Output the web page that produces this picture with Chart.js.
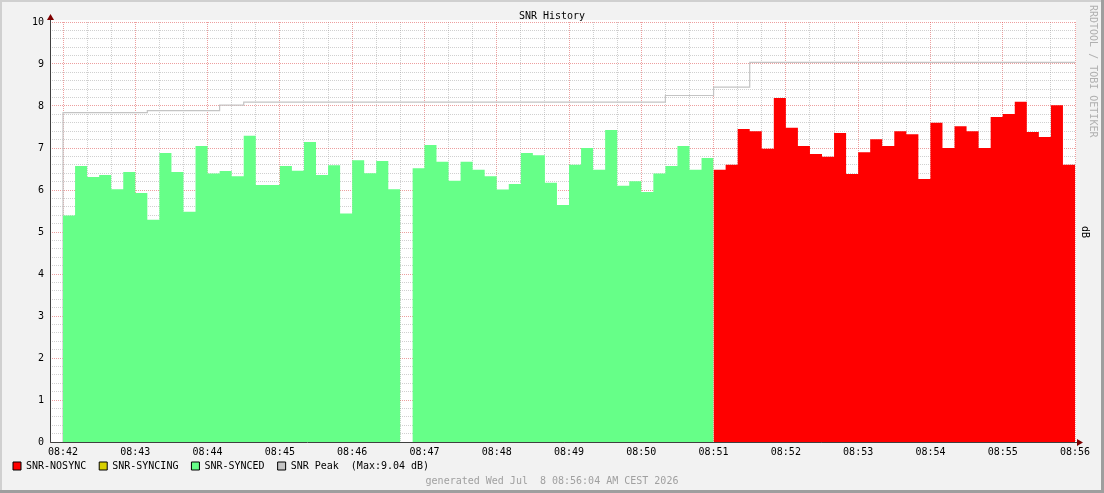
<!DOCTYPE html>
<html>
<head>
<meta charset="utf-8">
<script src="https://cdn.jsdelivr.net/npm/chart.js@4/dist/chart.umd.min.js"></script>
<style>
  body { margin: 0; background: #f2f2f2; overflow: hidden; }
  canvas { display: block; }
</style>
</head>
<body>
<canvas id="snrChart" width="1104" height="493"></canvas>
<script>
// one value every 10 seconds, starting 08:42:00
const stepSec = 10;
const timeLabels = ["08:42", "08:43", "08:44", "08:45", "08:46", "08:47", "08:48", "08:49",
  "08:50", "08:51", "08:52", "08:53", "08:54", "08:55", "08:56"];
const yLabels = ["0", "1", "2", "3", "4", "5", "6", "7", "8", "9", "10"];

// SNR-SYNCED, from 08:42:00
const snrSynced = [5.39, 6.57, 6.31, 6.36, 6.02, 6.43, 5.93, 5.29, 6.88, 6.43,
  5.48, 7.05, 6.39, 6.45, 6.33, 7.29, 6.12, 6.12, 6.57, 6.46,
  7.14, 6.36, 6.59, 5.44, 6.71, 6.40, 6.69, 6.02, null, 6.52,
  7.07, 6.67, 6.22, 6.67, 6.48, 6.33, 6.01, 6.14, 6.88, 6.83,
  6.17, 5.64, 6.60, 7.00, 6.48, 7.43, 6.10, 6.21, 5.95, 6.39,
  6.57, 7.05, 6.48, 6.76];
// SNR-NOSYNC, from 08:51:00 (step 54)
const nosyncStart = 54;
const snrNosync = [6.48, 6.60, 7.45, 7.40, 6.98, 8.19, 7.48, 7.05, 6.86, 6.79,
  7.36, 6.38, 6.90, 7.21, 7.05, 7.40, 7.33, 6.26, 7.60, 7.00,
  7.52, 7.40, 7.00, 7.74, 7.81, 8.10, 7.38, 7.26, 8.02, 6.60];
// SNR-SYNCING, no values in this window
const snrSyncing = [];
// SNR Peak, from 08:42:00
const snrPeak = [7.84, 7.84, 7.84, 7.84, 7.84, 7.84, 7.84, 7.89, 7.89, 7.89,
  7.89, 7.89, 7.89, 8.02, 8.02, 8.09, 8.09, 8.09, 8.09, 8.09,
  8.09, 8.09, 8.09, 8.09, 8.09, 8.09, 8.09, 8.09, 8.09, 8.09,
  8.09, 8.09, 8.09, 8.09, 8.09, 8.09, 8.09, 8.09, 8.09, 8.09,
  8.09, 8.09, 8.09, 8.09, 8.09, 8.09, 8.09, 8.09, 8.09, 8.09,
  8.25, 8.25, 8.25, 8.25, 8.45, 8.45, 8.45, 9.04, 9.04, 9.04,
  9.04, 9.04, 9.04, 9.04, 9.04, 9.04, 9.04, 9.04, 9.04, 9.04,
  9.04, 9.04, 9.04, 9.04, 9.04, 9.04, 9.04, 9.04, 9.04, 9.04,
  9.04, 9.04, 9.04, 9.04];

const colNosync = "#ff0000";
const colSyncing = "#d8d000";
const colSynced = "#66ff88";
const colPeak = "#c4c4c4";
const majorGrid = "rgba(222,80,80,0.55)";
const minorGrid = "rgba(150,150,150,0.45)";
const monoFont = "'DejaVu Sans Mono', monospace";

// turns a run of step values into points for a stepped line
function stepPoints(values, firstStep) {
  const pts = [];
  for (let i = 0; i < values.length; i++) {
    const t = (firstStep + i) * stepSec;
    const v = values[i];
    pts.push({ x: t, y: v });
    const next = values[i + 1];
    if (v !== null && (next === undefined || next === null)) {
      pts.push({ x: t + stepSec, y: v });
    }
  }
  return pts;
}

const peakPoints = [{ x: 0, y: 0 }].concat(stepPoints(snrPeak, 0));
const peakMax = Math.max.apply(null, snrPeak);

function isMinute(v) { return Math.abs(v % 60) < 1e-6; }
function isInt(v) { return Math.abs(v - Math.round(v)) < 1e-6; }

const rrdLook = {
  id: "rrdLook",
  afterLayout(chart) {
    // legend row sits just under the time labels
    const l = chart.legend;
    l.top -= 11;
    l.bottom = l.top + 28;
    l.height = 28;
  },
  beforeDraw(chart) {
    const ctx = chart.ctx;
    const a = chart.chartArea;
    const w = chart.width, h = chart.height;
    ctx.save();
    ctx.fillStyle = "#f2f2f2";
    ctx.fillRect(0, 0, w, h);
    ctx.fillStyle = "#d0d0d0";
    ctx.fillRect(0, 0, w, 2);
    ctx.fillRect(0, 0, 2, h);
    ctx.fillStyle = "#9e9e9e";
    ctx.fillRect(0, h - 3, w, 3);
    ctx.fillRect(w - 3, 0, 3, h);
    ctx.fillStyle = "#ffffff";
    ctx.fillRect(a.left, a.top - 2, a.right - a.left + 1, a.bottom - a.top + 2);
    ctx.restore();
  },
  afterDraw(chart) {
    const ctx = chart.ctx;
    const a = chart.chartArea;
    ctx.save();
    ctx.strokeStyle = "#404040";
    ctx.lineWidth = 1;
    ctx.beginPath();
    ctx.moveTo(a.left + 0.5, a.bottom + 0.5);
    ctx.lineTo(a.right + 4, a.bottom + 0.5);
    ctx.moveTo(a.left + 0.5, a.bottom + 0.5);
    ctx.lineTo(a.left + 0.5, a.top - 4);
    ctx.stroke();
    ctx.fillStyle = "#7f0000";
    ctx.beginPath();
    ctx.moveTo(a.right + 2, a.bottom - 3);
    ctx.lineTo(a.right + 8, a.bottom + 0.5);
    ctx.lineTo(a.right + 2, a.bottom + 4);
    ctx.closePath();
    ctx.fill();
    ctx.beginPath();
    ctx.moveTo(a.left - 3, a.top - 2);
    ctx.lineTo(a.left + 0.5, a.top - 8);
    ctx.lineTo(a.left + 4, a.top - 2);
    ctx.closePath();
    ctx.fill();
    // watermark, turned a quarter clockwise
    ctx.font = "10px " + monoFont;
    ctx.textBaseline = "middle";
    ctx.textAlign = "left";
    ctx.fillStyle = "#b0b0b0";
    ctx.translate(chart.width - 11, 5);
    ctx.rotate(Math.PI / 2);
    ctx.fillText("RRDTOOL / TOBI OETIKER", 0, 0);
    ctx.restore();
  }
};

Chart.defaults.font.family = monoFont;
Chart.defaults.font.size = 10;
Chart.defaults.color = "#000000";

function areaSet(label, points, color) {
  return {
    label: label,
    data: points,
    stepped: "before",
    fill: "origin",
    backgroundColor: color,
    borderColor: color,
    borderWidth: 0,
    pointRadius: 0,
  };
}

const ctx = document.getElementById("snrChart").getContext("2d");
const myChart = new Chart(ctx, {
  type: "line",
  data: {
    datasets: [
      areaSet("SNR-NOSYNC", stepPoints(snrNosync, nosyncStart), colNosync),
      areaSet("SNR-SYNCING", stepPoints(snrSyncing, 0), colSyncing),
      areaSet("SNR-SYNCED", stepPoints(snrSynced, 0), colSynced),
      {
        label: "SNR Peak  (Max:" + peakMax.toFixed(2) + " dB)",
        data: peakPoints,
        stepped: "before",
        fill: false,
        backgroundColor: colPeak,
        borderColor: colPeak,
        borderWidth: 1.2,
        pointRadius: 0,
      },
    ],
  },
  options: {
    responsive: false,
    animation: false,
    devicePixelRatio: 1,
    layout: { padding: { left: 0, right: 0, top: 0, bottom: 6 } },
    scales: {
      x: {
        type: "linear",
        min: -10.8,
        max: 840,
        afterBuildTicks: function (scale) {
          const t = [];
          for (let s = 0; s <= 840; s += 20) t.push({ value: s });
          scale.ticks = t;
        },
        afterFit: function (scale) { scale.height = 17; },
        ticks: {
          autoSkip: false,
          maxRotation: 0,
          minRotation: 0,
          padding: 4,
          callback: function (value) {
            return isMinute(value) ? timeLabels[Math.round(value / 60)] : "";
          },
        },
        grid: {
          drawTicks: false,
          color: function (c) {
            return c.tick && isMinute(c.tick.value) ? majorGrid : minorGrid;
          },
        },
        border: { display: false, dash: [1, 1] },
      },
      y: {
        min: 0,
        max: 10,
        afterBuildTicks: function (scale) {
          const t = [];
          for (let i = 0; i <= 50; i++) t.push({ value: i / 5 });
          scale.ticks = t;
        },
        afterFit: function (scale) { scale.width = 50; },
        ticks: {
          autoSkip: false,
          padding: 6,
          callback: function (value) {
            return isInt(value) ? yLabels[Math.round(value)] : "";
          },
        },
        grid: {
          drawTicks: false,
          color: function (c) {
            return c.tick && isInt(c.tick.value) ? majorGrid : minorGrid;
          },
        },
        border: { display: false, dash: [1, 1] },
      },
      unit: {
        type: "linear",
        position: "right",
        min: 0,
        max: 10,
        afterFit: function (scale) { scale.width = 29; },
        ticks: { display: false },
        grid: { display: false },
        border: { display: false },
        title: {
          display: true,
          text: "dB",
          color: "#000000",
          font: { family: monoFont, size: 10 },
          padding: { top: 13, bottom: 0 },
        },
      },
    },
    plugins: {
      title: {
        display: true,
        text: "SNR History",
        color: "#000000",
        font: { family: monoFont, size: 10, weight: "normal" },
        padding: { top: 10, bottom: 0 },
      },
      subtitle: {
        display: true,
        position: "bottom",
        text: "generated Wed Jul  8 08:56:04 AM CEST 2026",
        color: "#a0a0a0",
        font: { family: monoFont, size: 10 },
        padding: { top: 6, bottom: 0 },
      },
      legend: {
        display: true,
        position: "bottom",
        align: "start",
        maxHeight: 10,
        labels: {
          boxWidth: 8,
          boxHeight: 8,
          padding: 13,
          color: "#000000",
          font: { family: monoFont, size: 10 },
          generateLabels: function (chart) {
            return chart.data.datasets.map(function (ds, i) {
              return {
                text: ds.label,
                fillStyle: ds.backgroundColor,
                strokeStyle: "#000000",
                lineWidth: 1,
                hidden: false,
                datasetIndex: i,
                fontColor: "#000000",
              };
            });
          },
        },
      },
      tooltip: { enabled: false },
    },
  },
  plugins: [rrdLook],
});
</script>
</body>
</html>
